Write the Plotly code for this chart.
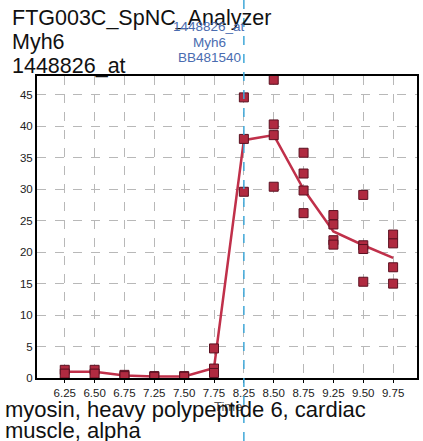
import plotly.graph_objects as go

categories = ["6.25", "6.50", "6.75", "7.25", "7.50", "7.75",
              "8.25", "8.50", "8.75", "9.25", "9.50", "9.75"]
replicates = [
    [1.3, 0.7],
    [1.3, 0.7],
    [0.5, 0.3],
    [0.3, 0.2],
    [0.3, 0.2],
    [4.7, 1.5, 0.8],
    [44.6, 38.0, 29.6],
    [47.4, 40.3, 38.6, 30.4],
    [35.8, 32.5, 29.8, 26.2],
    [25.9, 24.4, 21.9, 21.2],
    [29.1, 21.1, 20.5, 15.3],
    [22.8, 21.4, 17.6, 15.0],
]
mean_line = [1.0, 1.0, 0.4, 0.25, 0.25, 1.6, 37.8, 38.6, 30.0, 23.3, 21.1, 19.1]
y_ticks = [0, 5, 10, 15, 20, 25, 30, 35, 40, 45]
marker_category = "8.25"

W, H = 423, 441
L, R, T, B = 37, 4, 76, 63
x_range = [-0.93, 11.8]
y_range = [0, 48]

xi = list(range(len(categories)))
px_, py_ = [], []
for i, vals in enumerate(replicates):
    for v in vals:
        px_.append(i)
        py_.append(v)

red = "#c0304a"
fig = go.Figure()
fig.add_trace(go.Scatter(x=xi, y=mean_line, mode="lines",
                         line=dict(color=red, width=2.5), hoverinfo="skip"))
fig.add_trace(go.Scatter(x=px_, y=py_, mode="markers",
                         marker=dict(symbol="square", size=9, color="#b02a40",
                                     line=dict(color="#5a1020", width=1))))

grid = dict(showgrid=True, gridcolor="#b8b8b8", griddash="dash", gridwidth=1)
tickfont = dict(family="Liberation Sans Narrow, Liberation Sans", size=11.5, color="#222")
fig.update_xaxes(range=x_range, tickvals=xi, ticktext=categories, zeroline=False,
                 showline=True, linecolor="black", linewidth=1.5, mirror=True,
                 ticks="outside", ticklen=3, tickcolor="black", tickfont=tickfont,
                 **grid)
fig.update_yaxes(range=y_range, tickvals=y_ticks, zeroline=False,
                 showline=True, linecolor="black", linewidth=2, mirror=True,
                 ticks="", tickfont=tickfont, **grid)

pw = W - L - R
ph = H - T - B

def pxp(x):
    return (x - L) / pw

def pyp(y):
    return (H - B - y) / ph

# vertical marker line position from x-axis scale
mi = categories.index(marker_category)
mx = (mi - x_range[0]) / (x_range[1] - x_range[0])
fig.add_shape(type="line", xref="paper", yref="paper", x0=mx, x1=mx,
              y0=pyp(H), y1=pyp(0), line=dict(color="#40a8d8", width=1.5, dash="dash"),
              layer="above")

title_font = dict(family="Liberation Sans, Arial", size=21.5, color="#111")
bottom_font = dict(family="Liberation Sans, Arial", size=22, color="#111")
ann = []
for txt, y in [("FTG003C_SpNC_Analyzer", 18), ("Myh6", 42), ("1448826_at", 66)]:
    ann.append(dict(text=txt, x=pxp(10), y=pyp(y), xanchor="left", yanchor="middle", font=title_font))
blue = dict(family="Liberation Sans, Arial", size=13.5, color="#4a6cb0")
for txt, y in [("1448826_at", 27), ("Myh6", 42), ("BB481540", 57)]:
    ann.append(dict(text=txt, x=pxp(210), y=pyp(y), xanchor="center", yanchor="middle", font=blue))
ann.append(dict(text="Time", x=pxp(229), y=pyp(406), xanchor="center", yanchor="middle",
                font=dict(family="Liberation Sans, Arial", size=13, color="#555")))
for txt, y in [("myosin, heavy polypeptide 6, cardiac", 409), ("muscle, alpha", 431)]:
    ann.append(dict(text=txt, x=pxp(3), y=pyp(y), xanchor="left", yanchor="middle", font=bottom_font))
for a in ann:
    a.update(xref="paper", yref="paper", showarrow=False)

fig.update_layout(width=W, height=H, margin=dict(l=L, r=R, t=T, b=B),
                  paper_bgcolor="white", plot_bgcolor="white", showlegend=False,
                  annotations=ann)
fig.write_html("out.html")
